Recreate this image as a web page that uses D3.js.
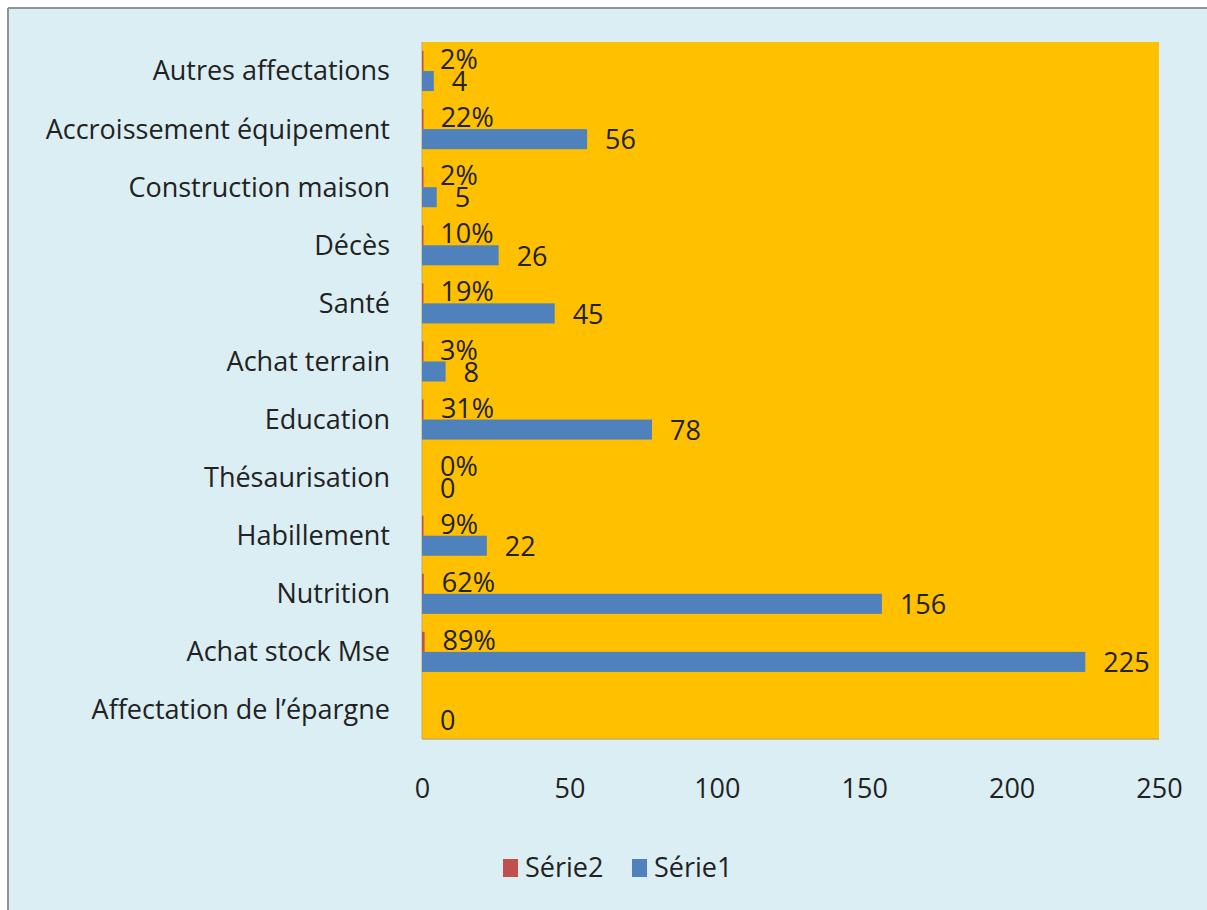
<!DOCTYPE html>
<html><head><meta charset="utf-8">
<script src="https://cdn.jsdelivr.net/npm/d3@7"></script>
<style>
html,body{margin:0;padding:0;background:#fff;}
svg{display:block;}
text{font-family:"Open Sans",sans-serif;fill:#222;}
</style></head>
<body>
<svg id="c" width="1207" height="910"></svg>
<script>
const categories = ["Autres affectations","Accroissement équipement","Construction maison","Décès","Santé","Achat terrain","Education","Thésaurisation","Habillement","Nutrition","Achat stock Mse","Affectation de l’épargne"];
const serie1 = [4,56,5,26,45,8,78,0,22,156,225,0];
const serie2 = [0.02,0.22,0.02,0.10,0.19,0.03,0.31,0,0.09,0.62,0.89,null];
const xTicks = [0,50,100,150,200,250];
const seriesNames = ["Série2","Série1"];
const colors = {"Série2":"#c0504d","Série1":"#4f81bd"};

(function(){
const svg = d3.select("#c");
svg.append("rect").attr("x",8).attr("y",8).attr("width",1199).attr("height",902).attr("fill","#dbeef4");
svg.append("line").attr("x1",8).attr("x2",1207).attr("y1",8).attr("y2",8).attr("stroke","#8c9496").attr("stroke-width",2);
svg.append("line").attr("x1",8).attr("x2",8).attr("y1",8).attr("y2",910).attr("stroke","#8c9496").attr("stroke-width",2);

const pL=422,pR=1159,pT=42,pB=739;
const x = d3.scaleLinear().domain([0,250]).range([pL,pR]);
const y = d3.scaleBand().domain(categories).range([pT,pB]).paddingInner(0.31).paddingOuter(0.155);
const inner = d3.scaleBand().domain(seriesNames).range([0,y.bandwidth()]);

svg.append("rect").attr("x",pL).attr("y",pT).attr("width",pR-pL).attr("height",pB-pT).attr("fill","#ffc000");
svg.append("line").attr("x1",pL).attr("x2",pR).attr("y1",pB).attr("y2",pB).attr("stroke","#c9a85a").attr("stroke-width",1.5);
svg.append("line").attr("x1",pL).attr("x2",pL).attr("y1",pT).attr("y2",pB).attr("stroke","#c9a85a").attr("stroke-width",1);

const fs = 27;
categories.forEach((c,i)=>{
  svg.append("text").attr("x",390).attr("y",y(c)+y.bandwidth()/2).attr("dy","0.35em")
    .attr("text-anchor","end").style("font-size",fs+"px").text(c);
});

const g = svg.append("g");
categories.forEach((c,i)=>{
  if(serie2[i]!==null){
    g.append("rect").attr("x",x(0)).attr("y",y(c)+inner("Série2")).attr("height",inner.bandwidth())
      .attr("width",Math.max(x(serie2[i])-x(0),serie2[i]>0?1.5:0)).attr("fill",colors["Série2"]);
    svg.append("text").attr("x",x(serie2[i])+18).attr("y",y(c)+inner("Série2")+inner.bandwidth()/2).attr("dy","0.3em")
      .style("font-size",fs+"px").text(d3.format(".0%")(serie2[i]));
  }
  g.append("rect").attr("x",x(0)).attr("y",y(c)+inner("Série1")).attr("height",inner.bandwidth())
    .attr("width",x(serie1[i])-x(0)).attr("fill",colors["Série1"]);
  svg.append("text").attr("x",x(serie1[i])+18).attr("y",y(c)+inner("Série1")+inner.bandwidth()/2).attr("dy","0.38em")
    .style("font-size",fs+"px").text(serie1[i]);
});

const ax = svg.append("g").attr("transform",`translate(0,${pB})`)
  .call(d3.axisBottom(x).tickValues(xTicks).tickSize(0).tickPadding(40));
ax.select(".domain").remove();
ax.selectAll("text").style("font-size",fs+"px").style("font-family","Open Sans").attr("fill","#222");

const lg = svg.append("g").attr("transform","translate(503,868)");
let lx=0;
seriesNames.forEach(s=>{
  lg.append("rect").attr("x",lx).attr("y",-9).attr("width",15).attr("height",18).attr("fill",colors[s]);
  lg.append("text").attr("x",lx+22).attr("y",0).attr("dy","0.35em").style("font-size",fs+"px").text(s);
  lx+=129;
});
})();
</script>
</body></html>
